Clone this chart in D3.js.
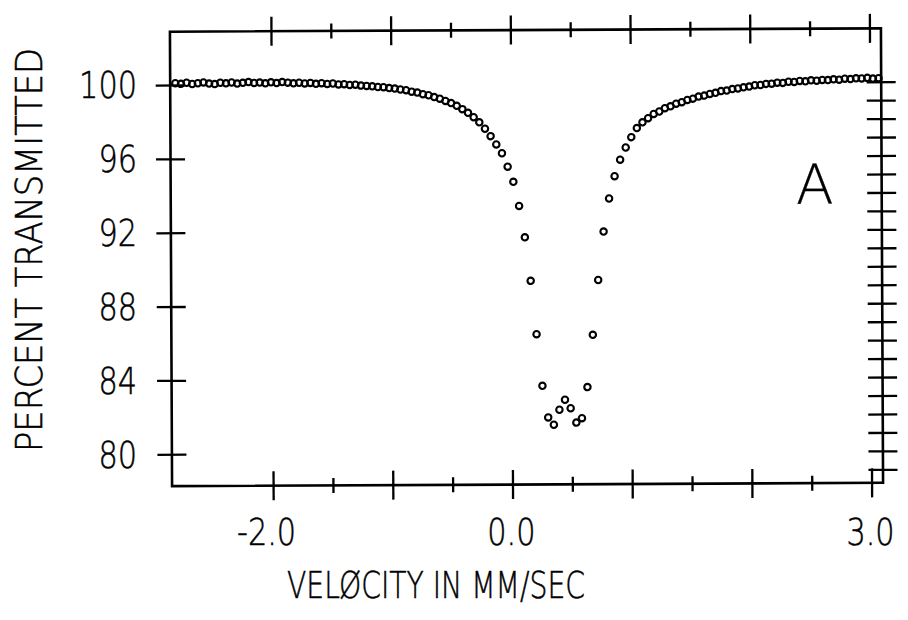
<!DOCTYPE html>
<html>
<head>
<meta charset="utf-8">
<script src="https://cdn.jsdelivr.net/npm/d3@7"></script>
<style>
  html, body { margin: 0; padding: 0; background: #fff; }
  svg { display: block; }
  text { font-family: "DejaVu Sans", "Liberation Sans", sans-serif; font-weight: 200;
         fill: #000; stroke: #000; stroke-width: 0.5px; }
</style>
</head>
<body>
<svg id="chart" width="908" height="620"></svg>
<script>
// Mössbauer absorption spectrum: source velocity (mm/s) vs percent transmission
const velocity = [
  -2.801, -2.754, -2.707, -2.660, -2.613, -2.566, -2.519, -2.472, -2.425, -2.378,
  -2.331, -2.284, -2.237, -2.190, -2.143, -2.096, -2.049, -2.002, -1.955, -1.908,
  -1.861, -1.814, -1.767, -1.720, -1.673, -1.626, -1.579, -1.532, -1.485, -1.438,
  -1.391, -1.344, -1.297, -1.250, -1.203, -1.156, -1.109, -1.062, -1.015, -0.968,
  -0.921, -0.874, -0.827, -0.780, -0.733, -0.686, -0.639, -0.592, -0.545, -0.498,
  -0.451, -0.404, -0.357, -0.310, -0.263, -0.216, -0.169, -0.122, -0.075, -0.028,
   0.019,  0.066,  0.113,  0.160,  0.207,  0.254,  0.301,  0.348,  0.395,  0.442,
   0.489,  0.536,  0.583,  0.630,  0.677,  0.724,  0.771,  0.818,  0.865,  0.912,
   0.959,  1.006,  1.053,  1.100,  1.147,  1.194,  1.241,  1.288,  1.335,  1.382,
   1.429,  1.476,  1.523,  1.570,  1.617,  1.664,  1.711,  1.758,  1.805,  1.852,
   1.899,  1.946,  1.993,  2.040,  2.087,  2.134,  2.181,  2.228,  2.275,  2.322,
   2.369,  2.416,  2.463,  2.510,  2.557,  2.604,  2.651,  2.698,  2.745,  2.792,
   2.839,  2.886,  2.933,  2.980,  3.027,  3.074
];
const transmission = [
  100.10, 100.06, 100.12, 100.05, 100.09, 100.13, 100.07, 100.04, 100.11, 100.08,
  100.12, 100.06, 100.10, 100.14, 100.09, 100.11, 100.07, 100.12, 100.08, 100.13,
  100.10, 100.06, 100.09, 100.05, 100.08, 100.03, 100.06, 100.02, 100.04,  99.99,
  100.00,  99.96,  99.97,  99.92,  99.90,  99.88,  99.84,  99.83,  99.78,  99.75,
   99.70,  99.66,  99.58,  99.53,  99.44,  99.38,  99.28,  99.19,  99.07,  98.95,
   98.80,  98.62,  98.42,  98.18,  97.90,  97.55,  97.15,  96.70,  96.22,  95.49,
   94.67,  93.36,  91.66,  89.30,  86.41,  83.61,  81.90,  81.50,  82.31,  82.85,
   82.39,  81.61,  81.85,  83.53,  86.36,  89.33,  91.95,  93.74,  94.95,  95.84,
   96.50,  97.06,  97.55,  97.86,  98.08,  98.31,  98.44,  98.62,  98.72,  98.86,
   98.94,  99.06,  99.13,  99.24,  99.29,  99.38,  99.44,  99.53,  99.56,  99.64,
   99.67,  99.73,  99.77,  99.84,  99.85,  99.91,  99.92,  99.97,  99.96, 100.02,
  100.01, 100.06, 100.04, 100.09, 100.07, 100.11, 100.10, 100.14, 100.12, 100.17,
  100.15, 100.19, 100.18, 100.21, 100.17, 100.19
];

// Axis ticks and labels
const xMajorTicks = [-2, -1, 0, 1, 2, 3];
const xMinorTicks = [-1.5, -0.5, 0.5, 1.5, 2.5];
const xLabelValues = [-2, 0, 3];
const xLabelText = ["-2.0", "0.0", "3.0"];
const yLabelValues = [100, 96, 92, 88, 84, 80];
const yLabelText = ["100", "96", "92", "88", "84", "80"];
const yRightTicks = [79, 80, 81, 82, 83, 84, 85, 86, 87, 88, 89, 90,
                     91, 92, 93, 94, 95, 96, 97, 98, 99, 100];
const xTitle = "VELØCITY IN MM/SEC";
const yTitle = "PERCENT TRANSMITTED";
const panelLabel = "A";

const W = 908, H = 620;
const frame = { left: 171, right: 882, top: 30, bottom: 484.5 };
const MAJOR = 14.5, MINOR = 7.5, TICK_Y = 14.5;

const x = d3.scaleLinear().domain([-2.844, 3.096]).range([frame.left, frame.right]);
const y = d3.scaleLinear().domain([78.27, 102.89]).range([frame.bottom, frame.top]);

const svg = d3.select("#chart");
svg.append("rect").attr("width", W).attr("height", H).attr("fill", "#fff");

// The plotted body sits a fraction of a degree askew on the sheet
const cx = (frame.left + frame.right) / 2, cy = (frame.top + frame.bottom) / 2;
const plot = svg.append("g").attr("transform", `rotate(-0.27 ${cx} ${cy})`);

// Frame
plot.append("rect")
  .attr("x", frame.left).attr("y", frame.top)
  .attr("width", frame.right - frame.left).attr("height", frame.bottom - frame.top)
  .attr("fill", "none").attr("stroke", "#000").attr("stroke-width", 2.6);

// Ticks that straddle the frame line
function straddle(axisGen, len, horizontal) {
  return g => {
    g.call(axisGen);
    g.select(".domain").remove();
    g.selectAll(".tick text").remove();
    g.selectAll(".tick line")
      .attr("stroke", "#000").attr("stroke-width", 2.3)
      .attr(horizontal ? "y1" : "x1", -len).attr(horizontal ? "y2" : "x2", len);
  };
}

[[xMajorTicks, MAJOR], [xMinorTicks, MINOR]].forEach(([vals, len]) => {
  plot.append("g").attr("transform", `translate(0,${frame.bottom})`)
    .call(straddle(d3.axisBottom(x).tickValues(vals).tickSize(len), len, true));
  plot.append("g").attr("transform", `translate(0,${frame.top})`)
    .call(straddle(d3.axisTop(x).tickValues(vals).tickSize(len), len, true));
});
plot.append("g").attr("transform", `translate(${frame.left},0)`)
  .call(straddle(d3.axisLeft(y).tickValues(yLabelValues).tickSize(TICK_Y), TICK_Y, false));
plot.append("g").attr("transform", `translate(${frame.right},0)`)
  .call(straddle(d3.axisRight(y).tickValues(yRightTicks).tickSize(TICK_Y), TICK_Y, false));

// Data points: open circles
plot.append("g")
  .selectAll("circle")
  .data(d3.zip(velocity, transmission))
  .join("circle")
    .attr("cx", d => x(d[0]))
    .attr("cy", d => y(d[1]))
    .attr("r", 3.2)
    .attr("fill", "none")
    .attr("stroke", "#000")
    .attr("stroke-width", 2.1);

// Panel letter
plot.append("text")
  .attr("x", 815).attr("y", 205)
  .attr("text-anchor", "middle")
  .style("font-size", "55px")
  .style("stroke-width", "0.3px")
  .text(panelLabel);

// Tick labels (narrow plotter lettering)
const FS = 37, NARROW = 0.82;
const labels = svg.append("g");

yLabelText.forEach((t, i) => {
  labels.append("text")
    .attr("transform", `translate(137,${y(yLabelValues[i]) + 15}) scale(${NARROW},1)`)
    .attr("text-anchor", "end")
    .style("font-size", FS + "px")
    .text(t);
});

xLabelText.forEach((t, i) => {
  const el = labels.append("text")
    .attr("text-anchor", "end")
    .style("font-size", FS + "px")
    .text(t.replace("-", ""));
  const w = el.node().getComputedTextLength() * NARROW;
  el.text(t)
    .attr("transform", `translate(${x(xLabelValues[i]) + w / 2},545) scale(${NARROW},1)`);
});

// Axis titles
labels.append("text")
  .attr("x", 436).attr("y", 598)
  .attr("text-anchor", "middle")
  .attr("textLength", 298).attr("lengthAdjust", "spacingAndGlyphs")
  .style("font-size", FS + "px")
  .text(xTitle);

labels.append("text")
  .attr("transform", "translate(42,250) rotate(-90)")
  .attr("text-anchor", "middle")
  .attr("textLength", 404).attr("lengthAdjust", "spacingAndGlyphs")
  .style("font-size", FS + "px")
  .text(yTitle);
</script>
</body>
</html>
